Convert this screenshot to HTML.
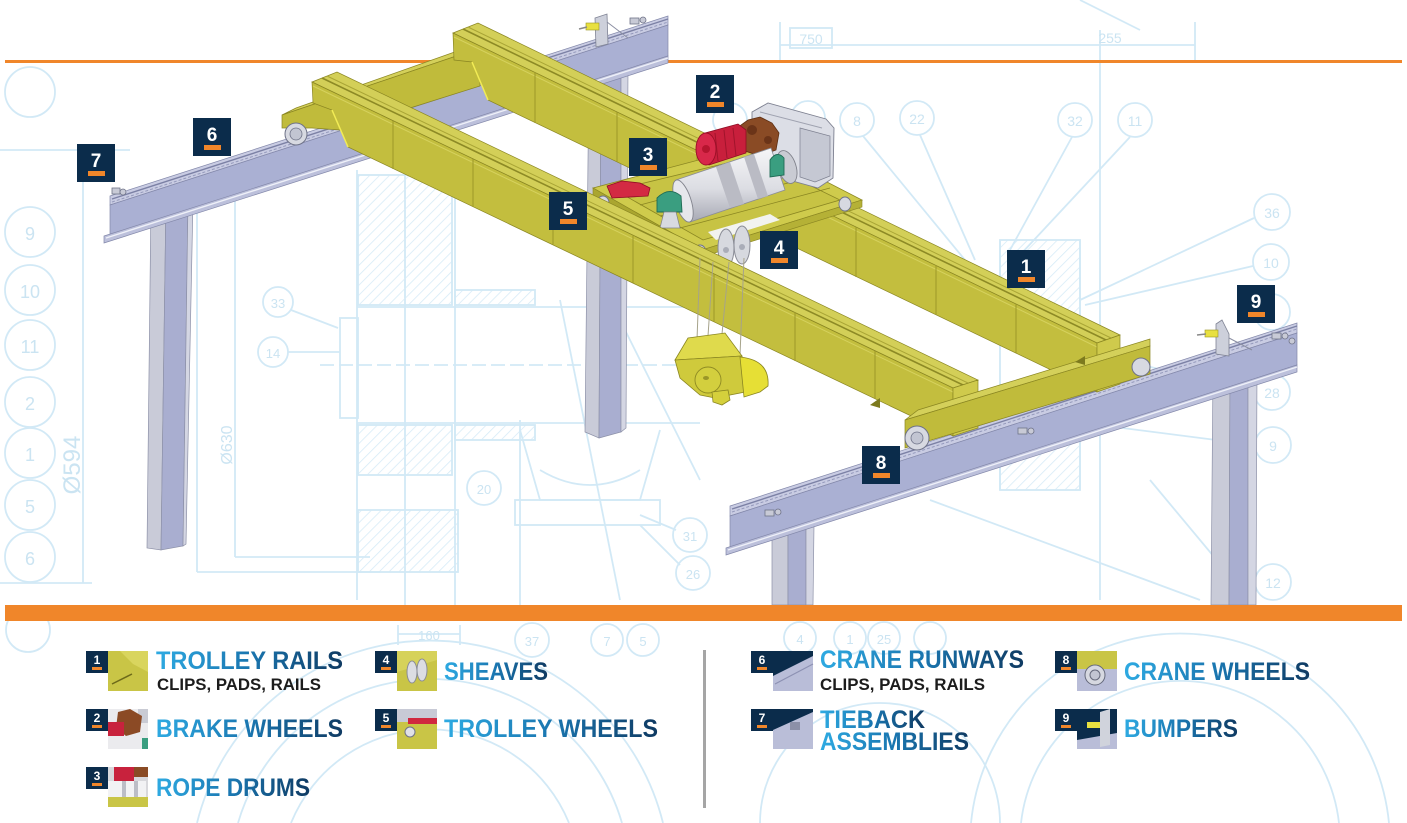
<!DOCTYPE html>
<html><head><meta charset="utf-8">
<style>html,body{margin:0;padding:0;background:#fff;width:1407px;height:823px;overflow:hidden;}svg{display:block}</style>
</head>
<body>
<svg width="1407" height="823" viewBox="0 0 1407 823" xmlns="http://www.w3.org/2000/svg" font-family="'Liberation Sans', sans-serif" overflow="hidden">
<defs>
 <pattern id="hatch" width="7" height="7" patternUnits="userSpaceOnUse" patternTransform="rotate(45)">
  <line x1="0" y1="0" x2="0" y2="7" stroke="#d6ebf7" stroke-width="1.6"/>
 </pattern>
 <linearGradient id="tg" x1="0" y1="0" x2="1" y2="0">
  <stop offset="0" stop-color="#2eaae2"/><stop offset="0.5" stop-color="#1a76b0"/><stop offset="1" stop-color="#0f3a62"/>
 </linearGradient>
 <linearGradient id="drum" x1="0" y1="0" x2="0" y2="1">
  <stop offset="0" stop-color="#f6f6f8"/><stop offset="0.55" stop-color="#dcdde3"/><stop offset="1" stop-color="#a7a9b4"/>
 </linearGradient>
</defs>

<rect width="1407" height="823" fill="#fff"/>

<!-- ===== blueprint background ===== -->
<g fill="none" stroke="#d2e9f6" stroke-width="1.8">
 <circle cx="30" cy="92" r="25"/><circle cx="30" cy="232" r="25"/><circle cx="30" cy="290" r="25"/>
 <circle cx="30" cy="345" r="25"/><circle cx="30" cy="402" r="25"/><circle cx="30" cy="453" r="25"/>
 <circle cx="30" cy="505" r="25"/><circle cx="30" cy="557" r="25"/>
 <line x1="83" y1="150" x2="83" y2="583"/><line x1="0" y1="583" x2="92" y2="583"/>
 <line x1="197" y1="205" x2="197" y2="572"/><line x1="197" y1="572" x2="380" y2="572"/>
 <line x1="235" y1="180" x2="235" y2="557"/><line x1="235" y1="557" x2="370" y2="557"/>
 <line x1="0" y1="150" x2="130" y2="150"/>
 <circle cx="278" cy="302" r="15"/><circle cx="273" cy="352" r="15"/>
 <line x1="291" y1="310" x2="338" y2="328"/><line x1="288" y1="352" x2="340" y2="352"/>
 <rect x="340" y="318" width="18" height="100"/>
 <line x1="357" y1="170" x2="357" y2="600"/><line x1="405" y1="170" x2="405" y2="610"/>
 <line x1="455" y1="170" x2="455" y2="610"/><line x1="520" y1="420" x2="520" y2="610"/>
 <line x1="357" y1="307" x2="700" y2="307"/><line x1="357" y1="423" x2="700" y2="423"/>
 <line x1="320" y1="365" x2="720" y2="365" stroke-dasharray="14 5"/>
 <rect x="358" y="175" width="94" height="130" fill="url(#hatch)"/>
 <rect x="358" y="425" width="94" height="50" fill="url(#hatch)"/>
 <rect x="358" y="510" width="100" height="62" fill="url(#hatch)"/>
 <rect x="455" y="290" width="80" height="15" fill="url(#hatch)"/>
 <rect x="455" y="425" width="80" height="15" fill="url(#hatch)"/>
 <path d="M520 430 L540 500 L640 500 L660 430"/><path d="M540 470 Q590 500 640 470"/>
 <rect x="515" y="500" width="145" height="25"/>
 <circle cx="484" cy="488" r="17"/><circle cx="690" cy="535" r="17"/><circle cx="693" cy="573" r="17"/>
 <line x1="640" y1="515" x2="676" y2="530"/><line x1="640" y1="525" x2="680" y2="565"/>
 <line x1="560" y1="300" x2="620" y2="600"/><line x1="600" y1="280" x2="700" y2="480"/>
 <!-- top -->
 <line x1="780" y1="45" x2="1195" y2="45"/><line x1="780" y1="22" x2="780" y2="60"/>
 <line x1="1195" y1="22" x2="1195" y2="60"/><rect x="790" y="28" width="42" height="20"/>
 <line x1="1080" y1="0" x2="1140" y2="30"/><line x1="1100" y1="30" x2="1100" y2="600"/>
 <circle cx="730" cy="120" r="17"/><circle cx="808" cy="118" r="17"/><circle cx="857" cy="120" r="17"/>
 <circle cx="917" cy="118" r="17"/><circle cx="1075" cy="120" r="17"/><circle cx="1135" cy="120" r="17"/>
 <line x1="863" y1="136" x2="965" y2="260"/><line x1="920" y1="135" x2="975" y2="260"/>
 <line x1="1072" y1="137" x2="1010" y2="250"/><line x1="1130" y1="137" x2="1020" y2="255"/>
 <!-- right -->
 <circle cx="1272" cy="212" r="18"/><circle cx="1271" cy="262" r="18"/><circle cx="1272" cy="312" r="18"/>
 <circle cx="1272" cy="392" r="18"/><circle cx="1273" cy="445" r="18"/><circle cx="1273" cy="582" r="18"/>
 <line x1="1254" y1="218" x2="1080" y2="300"/><line x1="1253" y1="266" x2="1085" y2="305"/>
 <line x1="1254" y1="392" x2="1080" y2="350"/><line x1="1255" y1="445" x2="1060" y2="420"/>
 <rect x="1000" y="240" width="80" height="90" fill="url(#hatch)"/>
 <rect x="1000" y="420" width="80" height="70" fill="url(#hatch)"/>
 <line x1="1000" y1="240" x2="1000" y2="490"/><line x1="1080" y1="240" x2="1080" y2="490"/>
 <line x1="930" y1="500" x2="1200" y2="600"/><line x1="1150" y1="480" x2="1250" y2="600"/>
 <!-- legend area arcs (kept inside frame) -->
 <path d="M238 823 A200 200 0 0 1 622 823"/>
 <path d="M197 823 A240 240 0 0 1 663 823"/>
 <path d="M291 823 A150 150 0 0 1 569 823"/>
 <path d="M1021 823 A160 160 0 0 1 1339 823"/>
 <path d="M971 823 A210 210 0 0 1 1389 823"/>
 <path d="M760 823 A120 120 0 1 1 1000 823"/>
 <line x1="398" y1="634" x2="460" y2="634"/><line x1="398" y1="625" x2="398" y2="645"/><line x1="460" y1="625" x2="460" y2="645"/>
 <circle cx="532" cy="640" r="17"/><circle cx="607" cy="640" r="16"/><circle cx="643" cy="640" r="16"/>
 <circle cx="800" cy="638" r="16"/><circle cx="850" cy="638" r="16"/><circle cx="884" cy="638" r="16"/><circle cx="930" cy="638" r="16"/>
 <circle cx="28" cy="630" r="22"/>
</g>
<g fill="#cbe4f2" font-size="18" text-anchor="middle">
 <text x="30" y="240">9</text><text x="30" y="298">10</text><text x="30" y="353">11</text>
 <text x="30" y="410">2</text><text x="30" y="461">1</text><text x="30" y="513">5</text><text x="30" y="565">6</text>
 <text x="278" y="308" font-size="13">33</text><text x="273" y="358" font-size="13">14</text>
 <text x="484" y="494" font-size="13">20</text><text x="690" y="541" font-size="13">31</text><text x="693" y="579" font-size="13">26</text>
 <text x="811" y="44" font-size="14">750</text><text x="1110" y="43" font-size="14">255</text>
 <text x="857" y="126" font-size="14">8</text><text x="917" y="124" font-size="14">22</text>
 <text x="1075" y="126" font-size="14">32</text><text x="1135" y="126" font-size="14">11</text>
 <text x="1272" y="218" font-size="14">36</text><text x="1271" y="268" font-size="14">10</text>
 <text x="1272" y="398" font-size="14">28</text><text x="1273" y="451" font-size="14">9</text><text x="1273" y="588" font-size="14">12</text>
 <text x="429" y="640" font-size="13">160</text><text x="532" y="646" font-size="13">37</text>
 <text x="607" y="646" font-size="13">7</text><text x="643" y="646" font-size="13">5</text>
 <text x="800" y="644" font-size="13">4</text><text x="850" y="644" font-size="13">1</text><text x="884" y="644" font-size="13">25</text>
 <text transform="translate(80,465) rotate(-90)" font-size="24">Ø594</text>
 <text transform="translate(232,445) rotate(-90)" font-size="16">Ø630</text>
</g>

<!-- orange top line -->
<rect x="5" y="60" width="1397" height="3" fill="#f0862a"/>

<!-- ===== columns ===== -->
<g stroke="#8d91a8" stroke-width="0.7">
 <polygon points="151,200 166,200 161,550 147,548" fill="#c9cbd8"/>
 <polygon points="166,200 188,200 183,546 161,550" fill="#a9aed0"/>
 <polygon points="188,200 193,200 186,544 183,546" fill="#d4d6e3"/>
 <polygon points="589,70 601,70 599,438 585,432" fill="#c9cbd8"/>
 <polygon points="601,70 621,70 621,432 599,438" fill="#a9aed0"/>
 <polygon points="621,70 628,70 626,428 621,432" fill="#d4d6e3"/>
 <polygon points="772,525 788,525 788,605 772,605" fill="#c9cbd8"/>
 <polygon points="788,525 806,525 806,605 788,605" fill="#a9aed0"/>
 <polygon points="806,525 814,525 813,605 806,605" fill="#d4d6e3"/>
 <polygon points="1213,370 1230,370 1229,605 1211,605" fill="#c9cbd8"/>
 <polygon points="1230,370 1248,370 1248,605 1229,605" fill="#a9aed0"/>
 <polygon points="1248,370 1257,370 1256,605 1248,605" fill="#d4d6e3"/>
</g>

<!-- ===== left runway ===== -->
<g stroke="#8388aa" stroke-width="0.7">
 <polygon points="110,196 668,16 668,25 110,205" fill="#c9cce3"/>
 <polygon points="110,205 668,25 668,56 110,236" fill="#aab0d3"/>
 <polygon points="104,236 668,56 668,63 104,243" fill="#bcc0db"/>
</g>
<line x1="112" y1="199" x2="668" y2="19" stroke="#7c81a5" stroke-width="1.4"/>
<line x1="112" y1="202" x2="668" y2="22" stroke="#9499bb" stroke-width="1" stroke-dasharray="3 2"/>
<line x1="106" y1="238" x2="668" y2="58" stroke="#eef0f8" stroke-width="1.4"/>
<g fill="#c8cad6" stroke="#6f7388" stroke-width="0.8">
 <rect x="112" y="188" width="8" height="6"/><circle cx="123" cy="192" r="3"/>
 <rect x="630" y="18" width="9" height="6"/><circle cx="643" cy="20" r="3"/>
</g>
<!-- top bumper -->
<polygon points="595,18 607,14 608,44 596,47" fill="#cdd0db" stroke="#7f8394" stroke-width="0.8"/>
<rect x="586" y="23" width="13" height="7" fill="#e8e040" stroke="#9a9420" stroke-width="0.6"/>
<line x1="579" y1="29" x2="587" y2="27" stroke="#888" stroke-width="1.5"/>
<line x1="607" y1="22" x2="628" y2="38" stroke="#8a8ea2" stroke-width="1"/>

<!-- ===== right runway ===== -->
<g stroke="#8388aa" stroke-width="0.7">
 <polygon points="730,506 1297,323 1297,333 730,516" fill="#c9cce3"/>
 <polygon points="730,516 1297,333 1297,365 730,548" fill="#aab0d3"/>
 <polygon points="726,548 1297,365 1297,372 726,555" fill="#bcc0db"/>
</g>
<line x1="732" y1="509" x2="1297" y2="326" stroke="#7c81a5" stroke-width="1.4"/>
<line x1="732" y1="512" x2="1297" y2="329" stroke="#9499bb" stroke-width="1" stroke-dasharray="3 2"/>
<line x1="728" y1="550" x2="1297" y2="367" stroke="#eef0f8" stroke-width="1.4"/>
<g fill="#c8cad6" stroke="#6f7388" stroke-width="0.8">
 <rect x="765" y="510" width="9" height="6"/><circle cx="778" cy="512" r="3"/>
 <rect x="1018" y="428" width="9" height="6"/><circle cx="1031" cy="431" r="3"/>
 <rect x="1272" y="333" width="9" height="6"/><circle cx="1285" cy="336" r="3"/><circle cx="1292" cy="341" r="3"/>
</g>
<!-- right bumper -->
<polygon points="1216,324 1222,320 1229,334 1229,356 1216,354" fill="#cdd0db" stroke="#7f8394" stroke-width="0.8"/>
<rect x="1205" y="330" width="13" height="7" fill="#e8e040" stroke="#9a9420" stroke-width="0.6"/>
<line x1="1197" y1="335" x2="1206" y2="334" stroke="#888" stroke-width="1.5"/>
<line x1="1229" y1="338" x2="1252" y2="350" stroke="#8a8ea2" stroke-width="1"/>

<!-- ===== left end truck ===== -->
<polygon points="282,115 296,108 480,43 480,48" fill="#d4d05a" stroke="#8a8622" stroke-width="0.7"/>
<polygon points="282,115 480,48 480,86 340,130 312,128 282,128" fill="#c0bb3b" stroke="#8a8622" stroke-width="0.7"/>
<circle cx="296" cy="134" r="11" fill="#d7d9e1" stroke="#6f7388" stroke-width="1"/>
<circle cx="296" cy="134" r="6" fill="#c2c5d2" stroke="#6f7388" stroke-width="0.8"/>

<!-- ===== girder B ===== -->
<polygon points="453,33 478,23 1120,335 1097,343" fill="#d3cf58" stroke="#8a8622" stroke-width="0.7"/>
<line x1="463" y1="29" x2="1106" y2="340" stroke="#8d8a25" stroke-width="1.6"/>
<line x1="468" y1="27" x2="1111" y2="338" stroke="#a9a535" stroke-width="1"/>
<polygon points="453,33 1097,343 1097,392 488,100 472,62 454,60" fill="#c3be3e" stroke="#8a8622" stroke-width="0.7"/>
<line x1="472" y1="62" x2="488" y2="100" stroke="#f2ec55" stroke-width="1.5"/>
<line x1="454" y1="37" x2="1097" y2="347" stroke="#d6d25e" stroke-width="1"/>
<polygon points="1097,343 1120,335 1120,384 1097,392" fill="#cfca4c" stroke="#8a8622" stroke-width="0.7"/>
<g stroke="#9c9828" stroke-width="1">
 <line x1="535" y1="72" x2="535" y2="123"/><line x1="617" y1="112" x2="617" y2="162"/>
 <line x1="697" y1="150" x2="697" y2="200"/><line x1="777" y1="189" x2="777" y2="239"/>
 <line x1="856" y1="227" x2="856" y2="277"/><line x1="936" y1="265" x2="936" y2="315"/>
 <line x1="1016" y1="304" x2="1016" y2="353"/>
</g>

<!-- ===== trolley ===== -->
<polygon points="593,188 702,250 862,200 755,145" fill="#cfcb4c" stroke="#8a8622" stroke-width="0.8"/>
<polygon points="593,188 702,250 702,257 593,195" fill="#aaa630" stroke="#8a8622" stroke-width="0.6"/>
<polygon points="702,250 862,200 862,207 702,257" fill="#b5b136" stroke="#8a8622" stroke-width="0.6"/>
<polygon points="615,190 703,240 840,200 752,157" fill="#c7c344" stroke="#8a8622" stroke-width="0.8"/>
<g stroke="#8a8622" stroke-width="0.8">
 <line x1="640" y1="205" x2="790" y2="165"/><line x1="660" y1="216" x2="815" y2="176"/>
 <line x1="680" y1="228" x2="830" y2="188"/>
</g>
<polygon points="708,232 770,214 780,220 716,240" fill="#f2f3f0"/>
<!-- panel -->
<polygon points="752,112 768,103 826,119 834,128 833,178 818,188 760,172 752,168" fill="#dcdee6" stroke="#7d8090" stroke-width="0.9"/>
<polygon points="800,128 830,136 830,176 815,182 800,177" fill="#c5c8d3" stroke="#7d8090" stroke-width="0.7"/>
<line x1="760" y1="112" x2="822" y2="128" stroke="#9fa2b0" stroke-width="1"/>
<!-- gearbox -->
<polygon points="737,128 748,120 760,117 772,123 779,133 776,150 760,156 745,151 738,142" fill="#8a4b25" stroke="#5e2f12" stroke-width="0.8"/>
<circle cx="752" cy="130" r="5" fill="#6b3418"/><circle cx="768" cy="140" r="4" fill="#6b3418"/>
<!-- motor -->
<polygon points="705,133 738,124 746,130 746,153 709,165" fill="#c81f3c" stroke="#8e0d24" stroke-width="0.8"/>
<g stroke="#a0142c" stroke-width="1"><line x1="715" y1="133" x2="718" y2="161"/><line x1="724" y1="130" x2="727" y2="158"/><line x1="733" y1="128" x2="736" y2="156"/></g>
<ellipse cx="706" cy="149" rx="10" ry="16" fill="#d8284a" stroke="#9c0f28" stroke-width="0.9"/>
<circle cx="706" cy="149" r="4" fill="#b5152f"/>
<!-- drum -->
<polygon points="676,180 771,148 785,190 690,222" fill="url(#drum)" stroke="#8a8c96" stroke-width="0.8"/>
<polygon points="716,167 730,162 744,204 730,208" fill="#babbc4"/>
<polygon points="744,157 754,154 768,196 758,199" fill="#babbc4"/>
<ellipse cx="683" cy="201" rx="8" ry="22" transform="rotate(-18 683 201)" fill="#e6e7ec" stroke="#80828c" stroke-width="0.9"/>
<ellipse cx="787" cy="167" rx="9" ry="17" transform="rotate(-18 787 167)" fill="#c9cbd3" stroke="#80828c" stroke-width="0.9"/>
<!-- bearings -->
<path d="M657 212 L657 198 Q669 186 681 196 L682 212 Z" fill="#3a9e80" stroke="#1f6b55" stroke-width="0.9"/>
<path d="M770 177 L770 160 Q777 150 784 158 L784 175 Z" fill="#3a9e80" stroke="#1f6b55" stroke-width="0.9"/>
<polygon points="664,212 676,212 680,228 660,228" fill="#d8dae0" stroke="#80828c" stroke-width="0.7"/>
<!-- brake -->
<polygon points="607,186 622,181 640,183 650,188 648,196 612,198" fill="#d32a43" stroke="#8e0d24" stroke-width="0.8"/>
<!-- trolley wheels -->
<g fill="#d7d9e1" stroke="#6f7388" stroke-width="0.9">
 <ellipse cx="603" cy="203" rx="6" ry="7"/><ellipse cx="700" cy="252" rx="6" ry="7"/><ellipse cx="845" cy="204" rx="6" ry="7"/>
</g>
<!-- sheaves -->
<ellipse cx="726" cy="248" rx="8" ry="19" fill="#d7d9df" stroke="#8a8c96" stroke-width="1"/>
<ellipse cx="742" cy="245" rx="8" ry="19" fill="#d7d9df" stroke="#8a8c96" stroke-width="1"/>
<circle cx="726" cy="250" r="3" fill="#aaadb8"/><circle cx="742" cy="247" r="3" fill="#aaadb8"/>

<!-- ===== girder A ===== -->
<polygon points="312,82 337,72 978,380 953,388" fill="#d3cf58" stroke="#8a8622" stroke-width="0.7"/>
<line x1="322" y1="78" x2="963" y2="385" stroke="#8d8a25" stroke-width="1.6"/>
<line x1="327" y1="76" x2="968" y2="383" stroke="#a9a535" stroke-width="1"/>
<polygon points="312,82 953,388 953,436 348,147 332,110 313,103" fill="#c3be3e" stroke="#8a8622" stroke-width="0.7"/>
<line x1="332" y1="110" x2="348" y2="147" stroke="#f2ec55" stroke-width="1.5"/>
<line x1="313" y1="86" x2="953" y2="392" stroke="#d6d25e" stroke-width="1"/>
<polygon points="953,388 978,380 978,428 953,436" fill="#cfca4c" stroke="#8a8622" stroke-width="0.7"/>
<g stroke="#9c9828" stroke-width="1">
 <line x1="393" y1="121" x2="393" y2="169"/><line x1="473" y1="159" x2="473" y2="207"/>
 <line x1="553" y1="197" x2="553" y2="245"/><line x1="633" y1="235" x2="633" y2="283"/>
 <line x1="714" y1="274" x2="714" y2="322"/><line x1="795" y1="312" x2="795" y2="361"/>
 <line x1="875" y1="351" x2="875" y2="399"/>
</g>

<!-- ropes -->
<g stroke="#a6a38a" stroke-width="1">
 <line x1="700" y1="258" x2="697" y2="340"/><line x1="713" y1="262" x2="708" y2="336"/>
 <line x1="729" y1="262" x2="722" y2="334"/><line x1="744" y1="258" x2="740" y2="355"/>
</g>
<!-- hook block -->
<polygon points="675,360 688,338 725,333 742,356" fill="#dfda4c" stroke="#8a8622" stroke-width="0.8"/>
<polygon points="675,360 742,356 745,392 715,398 700,395 680,378" fill="#cfca3c" stroke="#8a8622" stroke-width="0.8"/>
<path d="M740 357 Q770 360 768 386 L760 392 L744 397 Z" fill="#e6df35" stroke="#8a8622" stroke-width="0.8"/>
<circle cx="708" cy="380" r="13" fill="#d3cf3e" stroke="#8f8b23" stroke-width="0.9"/>
<ellipse cx="706" cy="378" rx="3" ry="2" fill="#9a9628"/>
<polygon points="712,392 728,390 730,400 722,405 713,402" fill="#d5d03c" stroke="#8a8622" stroke-width="0.8"/>

<!-- ===== right end truck ===== -->
<polygon points="905,420 918,410 1150,339 1150,346" fill="#d4d05a" stroke="#8a8622" stroke-width="0.7"/>
<polygon points="905,420 1150,346 1150,374 905,448" fill="#c0bb3b" stroke="#8a8622" stroke-width="0.7"/>
<polygon points="870,405 880,398 880,408" fill="#7d7a1e"/>
<polygon points="1075,362 1085,356 1085,365" fill="#7d7a1e"/>
<circle cx="917" cy="438" r="12" fill="#d7d9e1" stroke="#6f7388" stroke-width="1"/>
<circle cx="917" cy="438" r="6" fill="#c2c5d2" stroke="#6f7388" stroke-width="0.8"/>
<circle cx="1141" cy="367" r="9" fill="#d7d9e1" stroke="#6f7388" stroke-width="1"/>

<!-- orange bottom bar -->
<rect x="5" y="605" width="1397" height="16" fill="#f0862a"/>

<!-- ===== callout labels ===== -->
<g font-weight="bold" font-size="19" fill="#fff" text-anchor="middle">
 <g transform="translate(77,144)"><rect width="38" height="38" fill="#0b2c4b"/><text x="19" y="23">7</text><rect x="11" y="27" width="17" height="5" fill="#f0862a"/></g>
 <g transform="translate(193,118)"><rect width="38" height="38" fill="#0b2c4b"/><text x="19" y="23">6</text><rect x="11" y="27" width="17" height="5" fill="#f0862a"/></g>
 <g transform="translate(696,75)"><rect width="38" height="38" fill="#0b2c4b"/><text x="19" y="23">2</text><rect x="11" y="27" width="17" height="5" fill="#f0862a"/></g>
 <g transform="translate(629,138)"><rect width="38" height="38" fill="#0b2c4b"/><text x="19" y="23">3</text><rect x="11" y="27" width="17" height="5" fill="#f0862a"/></g>
 <g transform="translate(549,192)"><rect width="38" height="38" fill="#0b2c4b"/><text x="19" y="23">5</text><rect x="11" y="27" width="17" height="5" fill="#f0862a"/></g>
 <g transform="translate(760,231)"><rect width="38" height="38" fill="#0b2c4b"/><text x="19" y="23">4</text><rect x="11" y="27" width="17" height="5" fill="#f0862a"/></g>
 <g transform="translate(1007,250)"><rect width="38" height="38" fill="#0b2c4b"/><text x="19" y="23">1</text><rect x="11" y="27" width="17" height="5" fill="#f0862a"/></g>
 <g transform="translate(1237,285)"><rect width="38" height="38" fill="#0b2c4b"/><text x="19" y="23">9</text><rect x="11" y="27" width="17" height="5" fill="#f0862a"/></g>
 <g transform="translate(862,446)"><rect width="38" height="38" fill="#0b2c4b"/><text x="19" y="23">8</text><rect x="11" y="27" width="17" height="5" fill="#f0862a"/></g>
</g>

<!-- ===== legend thumbnails ===== -->
<rect x="108" y="651" width="40" height="40" fill="#c9c546"/>
<polygon points="120,651 148,651 148,672 133,664" fill="#d9d55e"/>
<line x1="112" y1="684" x2="132" y2="674" stroke="#6d6a1a" stroke-width="1.5"/>
<rect x="108" y="709" width="40" height="40" fill="#ebebee"/>
<rect x="138" y="709" width="10" height="14" fill="#c9cbd4"/>
<polygon points="118,712 130,709 142,716 140,732 126,736 116,728" fill="#8b4a25"/>
<rect x="108" y="722" width="16" height="14" fill="#c8223d"/>
<rect x="142" y="738" width="6" height="11" fill="#3a9e80"/>
<rect x="108" y="767" width="40" height="40" fill="#d8d8dc"/>
<rect x="114" y="767" width="20" height="14" fill="#c8223d"/>
<rect x="134" y="767" width="14" height="10" fill="#8a4b25"/>
<rect x="108" y="781" width="38" height="16" fill="#f2f2f4"/>
<rect x="122" y="781" width="4" height="16" fill="#bcbdc6"/><rect x="134" y="781" width="4" height="16" fill="#bcbdc6"/>
<rect x="108" y="797" width="40" height="10" fill="#c9c546"/>
<rect x="397" y="651" width="40" height="40" fill="#c9c546"/>
<polygon points="397,651 437,651 437,660 397,672" fill="#d6d25a"/>
<ellipse cx="412" cy="672" rx="5" ry="11" fill="#dcdde3" stroke="#8a8c96"/>
<ellipse cx="422" cy="670" rx="5" ry="11" fill="#dcdde3" stroke="#8a8c96"/>
<rect x="397" y="709" width="40" height="40" fill="#c9c546"/>
<rect x="397" y="709" width="40" height="13" fill="#c8cad6"/>
<rect x="408" y="718" width="29" height="6" fill="#d0283f"/>
<circle cx="410" cy="732" r="5" fill="#e0e1e6" stroke="#6f7388"/>
<rect x="773" y="651" width="40" height="40" fill="#0b2c4b"/>
<polygon points="773,676 813,656 813,691 773,691" fill="#b9bdd8"/>
<line x1="775" y1="684" x2="813" y2="664" stroke="#8d91b3" stroke-width="1.2"/>
<rect x="773" y="709" width="40" height="40" fill="#0b2c4b"/>
<polygon points="773,730 813,712 813,749 773,749" fill="#babed8"/>
<rect x="790" y="722" width="10" height="8" fill="#8c90a8"/>
<rect x="1077" y="651" width="40" height="40" fill="#b9bdd8"/>
<rect x="1077" y="651" width="40" height="18" fill="#c9c546"/>
<circle cx="1095" cy="675" r="10" fill="#d6d8e0" stroke="#666a7c"/>
<circle cx="1095" cy="675" r="5" fill="#c2c5d2" stroke="#666a7c"/>
<rect x="1077" y="709" width="40" height="40" fill="#0b2c4b"/>
<polygon points="1077,740 1117,733 1117,749 1077,749" fill="#b9bdd8"/>
<polygon points="1100,712 1110,709 1110,745 1100,747" fill="#d0d3dc"/>
<rect x="1087" y="722" width="13" height="6" fill="#e8e040"/>

<!-- legend number squares -->
<g font-weight="bold" font-size="12" fill="#fff" text-anchor="middle">
 <g transform="translate(86,651)"><rect width="22" height="22" fill="#0b2c4b"/><text x="11" y="13">1</text><rect x="6" y="16" width="10" height="3" fill="#f0862a"/></g>
 <g transform="translate(86,709)"><rect width="22" height="22" fill="#0b2c4b"/><text x="11" y="13">2</text><rect x="6" y="16" width="10" height="3" fill="#f0862a"/></g>
 <g transform="translate(86,767)"><rect width="22" height="22" fill="#0b2c4b"/><text x="11" y="13">3</text><rect x="6" y="16" width="10" height="3" fill="#f0862a"/></g>
 <g transform="translate(375,651)"><rect width="22" height="22" fill="#0b2c4b"/><text x="11" y="13">4</text><rect x="6" y="16" width="10" height="3" fill="#f0862a"/></g>
 <g transform="translate(375,709)"><rect width="22" height="22" fill="#0b2c4b"/><text x="11" y="13">5</text><rect x="6" y="16" width="10" height="3" fill="#f0862a"/></g>
 <g transform="translate(751,651)"><rect width="22" height="22" fill="#0b2c4b"/><text x="11" y="13">6</text><rect x="6" y="16" width="10" height="3" fill="#f0862a"/></g>
 <g transform="translate(751,709)"><rect width="22" height="22" fill="#0b2c4b"/><text x="11" y="13">7</text><rect x="6" y="16" width="10" height="3" fill="#f0862a"/></g>
 <g transform="translate(1055,651)"><rect width="22" height="22" fill="#0b2c4b"/><text x="11" y="13">8</text><rect x="6" y="16" width="10" height="3" fill="#f0862a"/></g>
 <g transform="translate(1055,709)"><rect width="22" height="22" fill="#0b2c4b"/><text x="11" y="13">9</text><rect x="6" y="16" width="10" height="3" fill="#f0862a"/></g>
</g>

<!-- divider -->
<rect x="703" y="650" width="3" height="158" fill="#a5a5a5"/>

<!-- legend text -->
<g font-weight="bold" font-size="25" fill="url(#tg)">
 <text x="156" y="669" textLength="187" lengthAdjust="spacingAndGlyphs">TROLLEY RAILS</text>
 <text x="156" y="737" textLength="187" lengthAdjust="spacingAndGlyphs">BRAKE WHEELS</text>
 <text x="156" y="796" textLength="154" lengthAdjust="spacingAndGlyphs">ROPE DRUMS</text>
 <text x="444" y="680" textLength="104" lengthAdjust="spacingAndGlyphs">SHEAVES</text>
 <text x="444" y="737" textLength="214" lengthAdjust="spacingAndGlyphs">TROLLEY WHEELS</text>
 <text x="820" y="668" textLength="204" lengthAdjust="spacingAndGlyphs">CRANE RUNWAYS</text>
 <text x="820" y="728" textLength="105" lengthAdjust="spacingAndGlyphs">TIEBACK</text>
 <text x="820" y="750" textLength="149" lengthAdjust="spacingAndGlyphs">ASSEMBLIES</text>
 <text x="1124" y="680" textLength="186" lengthAdjust="spacingAndGlyphs">CRANE WHEELS</text>
 <text x="1124" y="737" textLength="114" lengthAdjust="spacingAndGlyphs">BUMPERS</text>
</g>
<g font-weight="bold" font-size="16.5" fill="#1c1c1c">
 <text x="157" y="690" textLength="164" lengthAdjust="spacingAndGlyphs">CLIPS, PADS, RAILS</text>
 <text x="820" y="690" textLength="165" lengthAdjust="spacingAndGlyphs">CLIPS, PADS, RAILS</text>
</g>
</svg>
</body></html>
